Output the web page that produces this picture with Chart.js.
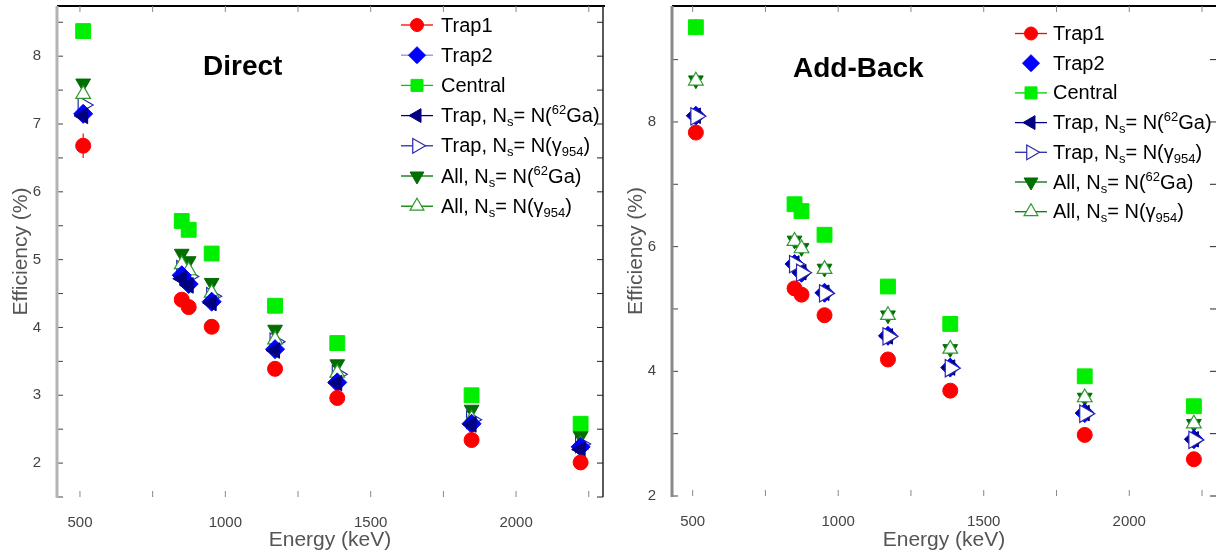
<!DOCTYPE html>
<html>
<head>
<meta charset="utf-8">
<script src="https://cdn.jsdelivr.net/npm/chart.js@4.4.1/dist/chart.umd.min.js"></script>
<style>
  html, body { margin: 0; padding: 0; background: #fff; }
  #wrap { position: relative; width: 1216px; height: 554px; }
  .panel { position: absolute; top: 0; height: 554px; }
  #p1 { left: 0; width: 606px; }
  #p2 { left: 606px; width: 610px; }
</style>
</head>
<body>
<div id="wrap">
  <div class="panel" id="p1"><canvas id="chart-1"></canvas></div>
  <div class="panel" id="p2"><canvas id="chart-2"></canvas></div>
</div>
<script>
// gamma energies (keV)
var energies = [511, 850, 874, 953, 1171, 1385, 1847, 2222];

var seriesNames = [
  "Trap1",
  "Trap2",
  "Central",
  "Trap, N_{s}= N(^{62}Ga)",
  "Trap, N_{s}= N(γ_{954})",
  "All, N_{s}= N(^{62}Ga)",
  "All, N_{s}= N(γ_{954})"
];
var panelTitles = ["Direct", "Add-Back"];
var xTitle = "Energy (keV)";
var yTitle = "Efficiency (%)";

// tick positions (labels only on some of them)
var xTicks = [500, 750, 1000, 1250, 1500, 1750, 2000, 2250];
var xTickLabels = ["500", "", "1000", "", "1500", "", "2000", ""];
var directYTicks = [1.5, 2, 2.5, 3, 3.5, 4, 4.5, 5, 5.5, 6, 6.5, 7, 7.5, 8, 8.5];
var directYLabels = ["", "2", "", "3", "", "4", "", "5", "", "6", "", "7", "", "8", ""];
var addbackYTicks = [2, 3, 4, 5, 6, 7, 8, 9];
var addbackYLabels = ["2", "", "4", "", "6", "", "8", ""];

// Direct efficiencies (%)
var directTrap1     = [6.68, 4.41, 4.30, 4.01, 3.39, 2.96, 2.34, 2.01];
var directTrap2     = [7.15, 4.77, 4.64, 4.38, 3.68, 3.19, 2.58, 2.24];
var directCentral   = [8.37, 5.57, 5.44, 5.09, 4.32, 3.77, 3.00, 2.58];
var directTrapGa    = [7.12, 4.72, 4.62, 4.36, 3.66, 3.18, 2.57, 2.20];
var directTrapGamma = [7.28, 4.86, 4.75, 4.46, 3.79, 3.31, 2.64, 2.28];
var directAllGa     = [7.60, 5.09, 4.98, 4.66, 3.97, 3.46, 2.79, 2.40];
var directAllGamma  = [7.44, 4.93, 4.84, 4.51, 3.82, 3.33, 2.65, 2.27];
var directTrap1Err  = [0.18, 0.05, 0.05, 0.04, 0.04, 0.04, 0.03, 0.03];

// Add-Back efficiencies (%)
var addbackTrap1     = [7.83, 5.33, 5.23, 4.90, 4.19, 3.69, 2.98, 2.59];
var addbackTrap2     = [8.10, 5.72, 5.58, 5.26, 4.57, 4.06, 3.33, 2.91];
var addbackCentral   = [9.52, 6.68, 6.57, 6.19, 5.36, 4.76, 3.92, 3.44];
var addbackTrapGa    = [8.10, 5.73, 5.59, 5.26, 4.56, 4.06, 3.33, 2.91];
var addbackTrapGamma = [8.09, 5.72, 5.58, 5.25, 4.56, 4.05, 3.32, 2.90];
var addbackAllGa     = [8.67, 6.10, 5.98, 5.65, 4.90, 4.36, 3.58, 3.16];
var addbackAllGamma  = [8.66, 6.09, 5.97, 5.64, 4.90, 4.36, 3.58, 3.16];
var addbackCentralErr = [0.13, 0.06, 0.06, 0.05, 0.05, 0.05, 0.04, 0.04];

// marker looks, same order as seriesNames
var markerStyles = [
  { pointStyle: "circle",   rotation: 0,   radius: 7.5,  fill: "#ff0000", stroke: "#ff0000", line: "#ff0000", legendRadius: 6.5 },
  { pointStyle: "rectRot",  rotation: 0,   radius: 9.5,  fill: "#0000ff", stroke: "#0000ff", line: "#8c8cff", legendRadius: 8.5 },
  { pointStyle: "rect",     rotation: 0,   radius: 10.5, fill: "#00ee00", stroke: "#00ee00", line: "#00cc00", legendRadius: 8.5 },
  { pointStyle: "triangle", rotation: 270, radius: 9,    fill: "#000080", stroke: "#000080", line: "#000080", legendRadius: 8 },
  { pointStyle: "triangle", rotation: 90,  radius: 10,   fill: "#ffffff", stroke: "#2a2aa8", line: "#2a2aa8", legendRadius: 8.5, bw: 1.2 },
  { pointStyle: "triangle", rotation: 180, radius: 8.5,  fill: "#006e00", stroke: "#006e00", line: "#006e00", legendRadius: 8 },
  { pointStyle: "triangle", rotation: 0,   radius: 8.5,  fill: "#ffffff", stroke: "#2e9a2e", line: "#008000", legendRadius: 8, bw: 1.2 }
];

var fontFamily = "'Liberation Sans', Arial, sans-serif";

function parseRich(text) {
  var parts = [];
  var re = /(_\{[^}]*\}|\^\{[^}]*\})/g;
  var last = 0, m;
  while ((m = re.exec(text)) !== null) {
    if (m.index > last) parts.push({ t: text.slice(last, m.index), k: 0 });
    parts.push({ t: m[0].slice(2, -1), k: m[0][0] === "_" ? 1 : -1 });
    last = re.lastIndex;
  }
  if (last < text.length) parts.push({ t: text.slice(last), k: 0 });
  return parts;
}

function line(ctx, x1, y1, x2, y2) {
  ctx.beginPath();
  ctx.moveTo(x1, y1);
  ctx.lineTo(x2, y2);
  ctx.stroke();
}

// axes drawn ROOT style: ticks pointing inwards
var framePlugin = {
  id: "frame",
  afterDraw: function (chart) {
    var o = chart.options.plugins.frame;
    var a = chart.chartArea, ctx = chart.ctx;
    var xs = chart.scales.x, ys = chart.scales.y;
    ctx.save();
    ctx.strokeStyle = "#000";
    ctx.lineWidth = 2;
    line(ctx, a.left, a.top, a.right + 2, a.top);
    if (o.rightLine) {
      ctx.lineWidth = 1.5;
      ctx.strokeStyle = "#222";
      line(ctx, a.right, a.top, a.right, a.bottom);
    }
    ctx.lineWidth = 1;
    ys.ticks.forEach(function (t) {
      var y = ys.getPixelForValue(t.value);
      ctx.strokeStyle = "#444";
      line(ctx, a.left, y, a.left + 6, y);
      ctx.strokeStyle = "#222";
      line(ctx, a.right - 6, y, a.right, y);
    });
    xs.ticks.forEach(function (t) {
      var x = xs.getPixelForValue(t.value);
      ctx.strokeStyle = "#888";
      line(ctx, x, a.bottom, x, a.bottom - 6);
      line(ctx, x, a.top, x, a.top + 6);
    });
    ctx.strokeStyle = o.leftColor;
    ctx.lineWidth = 3;
    line(ctx, a.left, a.top, a.left, a.bottom + 1);
    ctx.restore();
  }
};

var errorBarPlugin = {
  id: "errorBars",
  beforeDatasetsDraw: function (chart) {
    var ctx = chart.ctx, ys = chart.scales.y, xs = chart.scales.x;
    ctx.save();
    ctx.lineWidth = 1.2;
    chart.data.datasets.forEach(function (ds) {
      if (!ds.errors) return;
      ctx.strokeStyle = ds.pointBorderColor;
      ds.data.forEach(function (p, k) {
        var x = xs.getPixelForValue(p.x);
        line(ctx, x, ys.getPixelForValue(p.y - ds.errors[k]), x, ys.getPixelForValue(p.y + ds.errors[k]));
      });
    });
    ctx.restore();
  }
};

var titlePlugin = {
  id: "panelTitle",
  afterDraw: function (chart) {
    var o = chart.options.plugins.panelTitle;
    var ctx = chart.ctx;
    ctx.save();
    ctx.fillStyle = "#000";
    ctx.font = "bold 28px " + fontFamily;
    ctx.textBaseline = "alphabetic";
    ctx.fillText(o.text, o.x, o.y);
    ctx.restore();
  }
};

var legendPlugin = {
  id: "richLegend",
  afterDraw: function (chart) {
    var o = chart.options.plugins.richLegend;
    var ctx = chart.ctx;
    ctx.save();
    seriesNames.forEach(function (name, i) {
      var s = markerStyles[i];
      var y = o.y0 + i * o.dy;
      if (o.noLine.indexOf(i) < 0) {
        ctx.strokeStyle = s.line;
        ctx.lineWidth = 1.3;
        line(ctx, o.x0, y, o.x1, y);
      }
      ctx.fillStyle = s.fill;
      ctx.strokeStyle = s.stroke;
      ctx.lineWidth = s.bw || 1;
      Chart.helpers.drawPoint(ctx, {
        pointStyle: s.pointStyle, rotation: s.rotation,
        radius: s.legendRadius, borderWidth: s.bw || 1
      }, (o.x0 + o.x1) / 2, y);
      var x = o.tx;
      ctx.fillStyle = "#000";
      ctx.textBaseline = "middle";
      parseRich(name).forEach(function (p) {
        if (p.k === 0) {
          ctx.font = "20px " + fontFamily;
          ctx.fillText(p.t, x, y + 1);
        } else {
          ctx.font = "13px " + fontFamily;
          ctx.fillText(p.t, x, y + 1 + (p.k > 0 ? 6 : -6));
        }
        x += ctx.measureText(p.t).width;
      });
    });
    ctx.restore();
  }
};

function tickList(values) {
  return values.map(function (v) { return { value: v }; });
}

function makeChart(canvasId, cfg) {
  var datasets = cfg.series.map(function (vals, i) {
    var s = markerStyles[i];
    return {
      label: seriesNames[i],
      data: vals.map(function (v, k) { return { x: energies[k], y: v }; }),
      pointStyle: s.pointStyle,
      pointRotation: s.rotation,
      pointRadius: s.radius,
      pointHoverRadius: s.radius,
      pointBackgroundColor: s.fill,
      pointBorderColor: s.stroke,
      pointBorderWidth: s.bw || 1,
      showLine: false,
      order: cfg.order[i],
      errors: cfg.errors[i] || null
    };
  });

  var titleFont = { family: fontFamily, size: 21 };

  return new Chart(document.getElementById(canvasId).getContext("2d"), {
    type: "scatter",
    data: { datasets: datasets },
    plugins: [errorBarPlugin, framePlugin, titlePlugin, legendPlugin],
    options: {
      responsive: true,
      maintainAspectRatio: false,
      animation: false,
      layout: { autoPadding: false, padding: { top: 6, right: cfg.padRight, left: 0, bottom: 0 } },
      plugins: {
        legend: { display: false },
        tooltip: { enabled: false },
        frame: { leftColor: cfg.leftColor, rightLine: cfg.rightLine },
        panelTitle: cfg.title,
        richLegend: cfg.legend
      },
      scales: {
        x: {
          type: "linear",
          min: cfg.xMin,
          max: cfg.xMax,
          bounds: "data",
          border: { display: false },
          grid: { display: false },
          afterBuildTicks: function (s) { s.ticks = tickList(xTicks); },
          ticks: {
            autoSkip: false,
            maxRotation: 0,
            padding: 9,
            color: "#444",
            font: { family: fontFamily, size: 15 },
            callback: function (v, i) { return xTickLabels[i]; }
          },
          title: { display: true, text: xTitle, color: "#555", font: titleFont, padding: { top: 0, bottom: 1 } },
          afterFit: function (s) { s.height = cfg.xHeight; s.paddingLeft = 0; s.paddingRight = 0; }
        },
        y: {
          type: "linear",
          min: cfg.yMin,
          max: cfg.yMax,
          bounds: "data",
          border: { display: false },
          grid: { display: false },
          afterBuildTicks: function (s) { s.ticks = tickList(cfg.yTicks); },
          ticks: {
            autoSkip: false,
            padding: 8,
            color: "#444",
            font: { family: fontFamily, size: 15, lineHeight: 0.8 },
            callback: function (v, i) { return cfg.yLabels[i]; }
          },
          title: { display: true, text: yTitle, color: "#555", font: titleFont, padding: { top: cfg.yTitlePad, bottom: 0 } },
          afterFit: function (s) { s.width = cfg.yWidth; s.paddingTop = 0; s.paddingBottom = 0; }
        }
      }
    }
  });
}

makeChart("chart-1", {
  series: [directTrap1, directTrap2, directCentral, directTrapGa, directTrapGamma, directAllGa, directAllGamma],
  errors: [directTrap1Err],
  order: [0, 2, 6, 1, 5, 4, 3],
  xMin: 421, xMax: 2299,
  yMin: 1.5, yMax: 8.74, yTicks: directYTicks, yLabels: directYLabels,
  yWidth: 57, xHeight: 57, padRight: 3, yTitlePad: 9, rightLine: true,
  leftColor: "#b4b4b4",
  title: { text: panelTitles[0], x: 203, y: 75 },
  legend: { x0: 401, x1: 433, tx: 441, y0: 25, dy: 30.2, noLine: [] }
});

makeChart("chart-2", {
  series: [addbackTrap1, addbackTrap2, addbackCentral, addbackTrapGa, addbackTrapGamma, addbackAllGa, addbackAllGamma],
  errors: [null, null, addbackCentralErr],
  order: [0, 3, 6, 2, 1, 5, 4],
  xMin: 429, xMax: 2298,
  yMin: 2, yMax: 9.86, yTicks: addbackYTicks, yLabels: addbackYLabels,
  yWidth: 66, xHeight: 58, padRight: 0, yTitlePad: 18, rightLine: false,
  leftColor: "#8a8a8a",
  title: { text: panelTitles[1], x: 187, y: 77 },
  legend: { x0: 409, x1: 441, tx: 447, y0: 33.5, dy: 29.7, noLine: [1] }
});
</script>
</body>
</html>
